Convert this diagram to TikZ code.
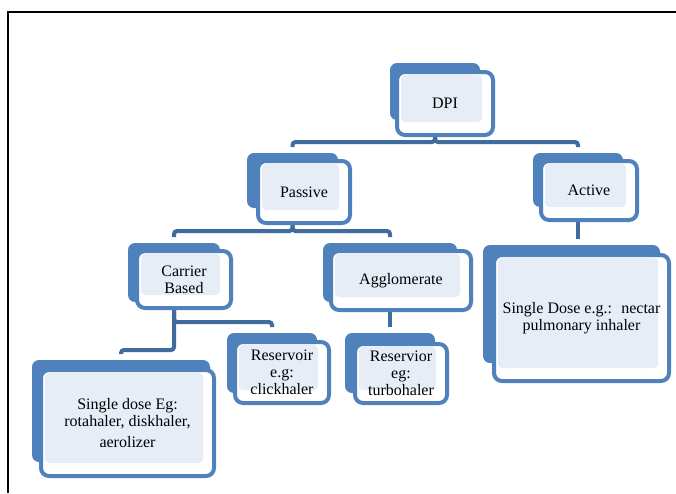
\documentclass[tikz,border=0pt]{standalone}
\usepackage{fontspec}
\setmainfont{Liberation Serif}
\pgfdeclarelayer{bg}
\pgfsetlayers{bg,main}
\definecolor{boxblue}{HTML}{4F81BD}
\definecolor{connblue}{HTML}{3F6B9F}
\definecolor{patfill}{HTML}{E7EDF6}
\tikzset{
  backbox/.style={fill=boxblue, rounded corners=7pt, inner sep=0pt, outer sep=0pt},
  frontbox/.style={draw=boxblue, line width=4pt, fill=white, rounded corners=8pt,
    inner sep=0pt, outer sep=0pt, align=center,
    font=\fontsize{16}{17}\selectfont,
    path picture={\fill[patfill, rounded corners=4pt]
      ([shift={(4pt,-3pt)}]path picture bounding box.north west) rectangle
      ([shift={(-11pt,13pt)}]path picture bounding box.south east);}},
  conn/.style={draw=connblue, line width=4pt, rounded corners=3pt, shorten >=6pt}
}
\begin{document}
\begin{tikzpicture}[x=1pt,y=-1pt]
\useasboundingbox (0,0) rectangle (676,493);
\draw[line width=1.8pt] (8,493) -- (8,12) -- (676,12);
% DPI
\node[backbox, minimum width=90pt, minimum height=57pt] (DPIb) at (435,91.5) {};
\node[frontbox, minimum width=96pt, minimum height=63pt] (DPI) at (445,103.5) {DPI};
% Passive
\node[backbox, minimum width=91pt, minimum height=55pt] (Passiveb) at (292.5,180.5) {};
\node[frontbox, minimum width=92pt, minimum height=62pt] (Passive) at (304,192) {Passive};
% Active
\node[backbox, minimum width=90pt, minimum height=54pt] (Activeb) at (578,180) {};
\node[frontbox, minimum width=96pt, minimum height=59pt] (Active) at (589,190.5) {Active};
% Carrier
\node[backbox, minimum width=92pt, minimum height=59pt] (Carrierb) at (174,272.5) {};
\node[frontbox, minimum width=94pt, minimum height=57pt] (Carrier) at (184,279.5) {Carrier\\Based};
% Agglomerate
\node[backbox, minimum width=134pt, minimum height=59pt] (Aggb) at (390,272.5) {};
\node[frontbox, minimum width=140pt, minimum height=59pt] (Agg) at (401,280.5) {Agglomerate};
% Reservoir clickhaler
\node[backbox, minimum width=90pt, minimum height=60pt] (Resab) at (272,363) {};
\node[frontbox, minimum width=94pt, minimum height=61pt] (Resa) at (282,372.5) {Reservoir\\e.g:\\clickhaler};
% Reservior turbohaler
\node[backbox, minimum width=90pt, minimum height=60pt] (Resbb) at (390,363) {};
\node[frontbox, minimum width=92pt, minimum height=59pt] (Resb) at (401,373.5) {Reservior\\eg:\\turbohaler};
% Single dose
\node[backbox, minimum width=178pt, minimum height=102pt] (SDb) at (121,411) {};
\node[frontbox, minimum width=173pt, minimum height=106pt] (SD) at (127.5,423) {Single dose Eg:\\rotahaler, diskhaler,\\[4pt]aerolizer};
% Nectar
\node[backbox, minimum width=177pt, minimum height=118pt] (Nectarb) at (571.5,304) {};
\node[frontbox, minimum width=175pt, minimum height=126pt] (Nectar) at (581.5,318) {Single Dose e.g.:~ nectar\\pulmonary inhaler};
% connectors
\begin{pgfonlayer}{bg}
\draw[conn] (DPIb.south) -- ++(0,22) -| (Passiveb.north);
\draw[conn] (DPIb.south) -- ++(0,22) -| (Activeb.north);
\draw[conn] (Passiveb.south) -- ++(0,23) -| (Carrierb.north);
\draw[conn] (Passiveb.south) -- ++(0,23) -| (Aggb.north);
\draw[conn] (Carrierb.south) -- ++(0,20) -| (Resab.north);
\draw[conn] (Carrierb.south) -- ++(0,48) -| (SDb.north);
\draw[conn] (Aggb.south) -- (Resbb.north);
\draw[conn] (Activeb.south) -- (Activeb.south |- Nectarb.north);
\end{pgfonlayer}
\end{tikzpicture}
\end{document}
